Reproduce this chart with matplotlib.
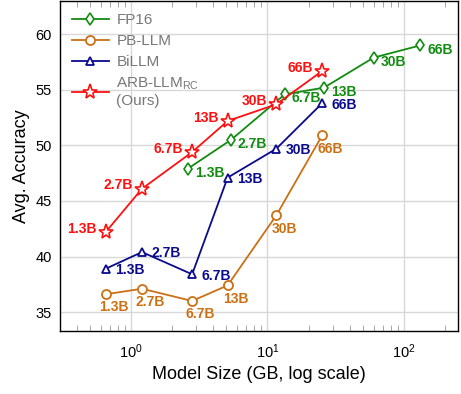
import matplotlib
matplotlib.use("Agg")
from matplotlib import pyplot as plt

plt.rcParams['font.family'] = ['Liberation Sans', 'DejaVu Sans']
plt.rcParams['mathtext.fontset'] = 'custom'
plt.rcParams['mathtext.rm'] = 'Liberation Sans'
plt.rcParams['mathtext.it'] = 'Liberation Sans:italic'

# model sizes in GB
fp16_size = [2.6, 5.4, 13.4, 26, 60, 132]
bin_size = [0.65, 1.2, 2.8, 5.1, 11.6, 25.2]
size_names = ['1.3B', '2.7B', '6.7B', '13B', '30B', '66B']

fp16_acc = [47.9, 50.5, 54.6, 55.2, 57.9, 59.0]
pbllm_acc = [36.6, 37.1, 36.0, 37.4, 43.7, 50.9]
billm_acc = [38.9, 40.4, 38.4, 47.1, 49.7, 53.8]
arb_acc = [42.2, 46.1, 49.4, 52.2, 53.7, 56.7]

fig = plt.figure(figsize=(4.61, 3.94), dpi=100)
ax = fig.add_axes([0.130, 0.160, 0.8635, 0.8375])

green = '#118c11'
orange = '#cc7014'
blue = '#0a0a8c'
red = '#ff1010'

ax.plot(fp16_size, fp16_acc, color=green, marker='d', markersize=6, markerfacecolor='white',
        markeredgewidth=1.2, lw=1.3, label='FP16', zorder=3)
ax.plot(bin_size, pbllm_acc, color=orange, marker='o', markersize=6.5, markerfacecolor='white',
        markeredgewidth=1.3, lw=1.3, label='PB-LLM', zorder=3)
ax.plot(bin_size, billm_acc, color=blue, marker='^', markersize=6, markerfacecolor='white',
        markeredgewidth=1.3, lw=1.3, label='BiLLM', zorder=3)
ax.plot(bin_size, arb_acc, color=red, marker='*', markersize=11, markerfacecolor='white',
        markeredgewidth=1.2, lw=1.3, label='ARB-LLM$_{\\rm RC}$\n(Ours)', zorder=4)

# size labels next to each point
lab = dict(fontsize=10, fontweight='bold', textcoords='offset points')
for i, n in enumerate(size_names):
    ax.annotate(n, (fp16_size[i], fp16_acc[i]), xytext=(5, -3), ha='left', va='center', color=green, **lab)
    ax.annotate(n, (bin_size[i], pbllm_acc[i]), xytext=(6, -9.5), ha='center', va='center', color=orange, **lab)
    ax.annotate(n, (bin_size[i], billm_acc[i]), xytext=(7, -1), ha='left', va='center', color=blue, **lab)
    ax.annotate(n, (bin_size[i], arb_acc[i]), xytext=(-6.5, 2.5), ha='right', va='center', color=red, **lab)

ax.set_xscale('log')
ax.set_xlim(0.3, 250)
ax.set_ylim(33.3, 63)
ax.set_yticks([35, 40, 45, 50, 55, 60])
ax.grid(True, which='major', color='#d8d8d8', lw=1.0, zorder=0)
ax.set_axisbelow(True)
ax.tick_params(axis='y', length=0, labelsize=10.5, pad=6)
ax.tick_params(axis='x', which='both', direction='in', top=True, labelsize=10.5, pad=8)
ax.tick_params(axis='x', which='major', length=0)
ax.tick_params(axis='x', which='minor', length=4, color='#999999')
for s in ax.spines.values():
    s.set_linewidth(1.0)

ax.set_xlabel('Model Size (GB, log scale)', fontsize=13)
ax.set_ylabel('Avg. Accuracy', fontsize=13, labelpad=4)

leg = ax.legend(loc='upper left', frameon=False, fontsize=11, handlelength=2.4,
                labelspacing=0.45, borderaxespad=0.4, handletextpad=0.5)
for t in leg.get_texts():
    t.set_color('#777777')

fig.savefig('out.png', dpi=100)
